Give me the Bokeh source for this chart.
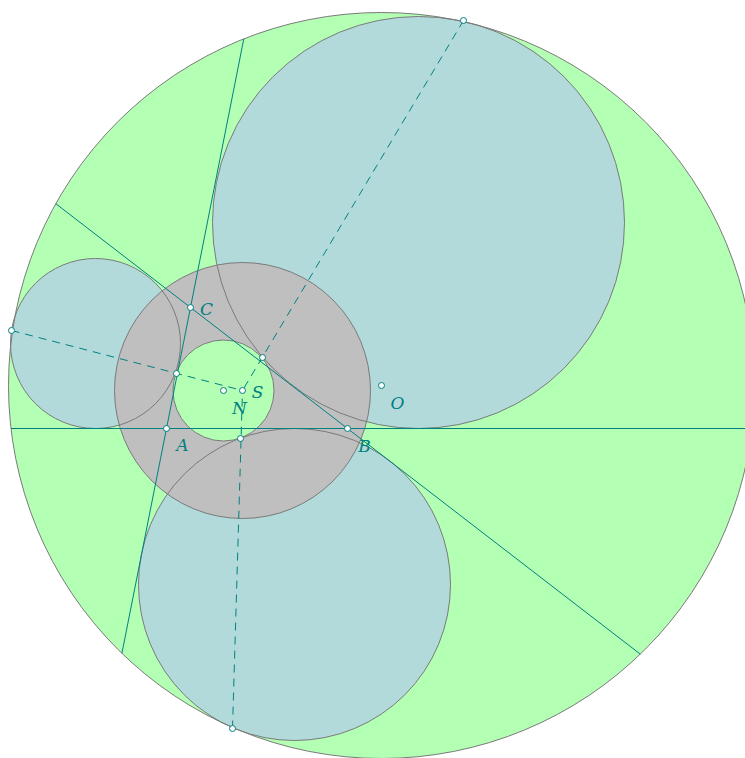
import numpy as np
from bokeh.plotting import figure
from bokeh.models import Range1d
from bokeh.core.properties import value
from bokeh.embed import file_html
from bokeh.resources import INLINE

# ---- data (screen-like coordinates, y downward) ----
circum_center = [381, 385]
circum_radius = 373

blue_cx = [418, 294, 95]
blue_cy = [222, 584, 343]
blue_r = [206, 156, 85]

gray_center = [242, 390]
gray_radius = 128

small_center = [223, 390]
small_radius = 50.5

# triangle vertices
A = [166, 428]
B = [347, 428]
C = [190, 307]
S = [242, 390]

# tangency points
tangent_x = [11, 463, 232]
tangent_y = [330, 20, 728]
inner_x = [176, 262, 240]
inner_y = [373, 357, 438]

label_text = ["C", "S", "N", "O", "A", "B"]
label_x = [206, 257, 239, 397, 182, 364]
label_y = [308, 391, 407, 402, 444, 445]

GREEN = "#b3ffb3"
BLUE = "#b3dada"
GRAY = "#bfbfbf"
EDGE = "#7a7a7a"
TEAL = "#008080"

p = figure(width=745, height=758, output_backend="svg", toolbar_location=None,
           x_range=Range1d(0, 745), y_range=Range1d(758, 0),
           min_border=0, background_fill_color="white", border_fill_color="white")
p.axis.visible = False
p.grid.visible = False
p.outline_line_color = None


def chord(P, Q):
    """Intersect line PQ with circumcircle."""
    P = np.array(P, float); Q = np.array(Q, float)
    O = np.array(circum_center, float)
    d = Q - P
    f = P - O
    a = d @ d; b = 2 * f @ d; c = f @ f - circum_radius ** 2
    disc = np.sqrt(b * b - 4 * a * c)
    t1 = (-b - disc) / (2 * a); t2 = (-b + disc) / (2 * a)
    p1 = P + t1 * d; p2 = P + t2 * d
    return [p1[0], p2[0]], [p1[1], p2[1]]


# fills
p.circle([circum_center[0]], [circum_center[1]], radius=circum_radius,
         fill_color=GREEN, line_color=None)
p.circle(blue_cx, blue_cy, radius=blue_r, fill_color=BLUE, line_color=None)
p.circle([gray_center[0]], [gray_center[1]], radius=gray_radius,
         fill_color=GRAY, line_color=None)
p.circle([small_center[0]], [small_center[1]], radius=small_radius,
         fill_color=GREEN, line_color=None)

# outlines
p.circle([circum_center[0]], [circum_center[1]], radius=circum_radius,
         fill_color=None, line_color=EDGE, line_width=1)
p.circle(blue_cx, blue_cy, radius=blue_r, fill_color=None, line_color=EDGE, line_width=1)
p.circle([gray_center[0]], [gray_center[1]], radius=gray_radius,
         fill_color=None, line_color=EDGE, line_width=1)
p.circle([small_center[0]], [small_center[1]], radius=small_radius,
         fill_color=None, line_color=EDGE, line_width=1)

# triangle side lines (chords)
for P, Q in [(A, C), (C, B), (A, B)]:
    xs, ys = chord(P, Q)
    p.line(xs, ys, line_color=TEAL, line_width=1)

# dashed lines from tangency points to S
for tx, ty in zip(tangent_x, tangent_y):
    p.line([tx, S[0]], [ty, S[1]], line_color=TEAL, line_width=1, line_dash="8 6")

# points
pts_x = [A[0], B[0], C[0], S[0], small_center[0], circum_center[0]] + tangent_x + inner_x
pts_y = [A[1], B[1], C[1], S[1], small_center[1], circum_center[1]] + tangent_y + inner_y
p.scatter(pts_x, pts_y, marker="circle", size=6, fill_color="white",
          line_color=TEAL, line_width=1)

p.text(label_x, label_y, text=label_text, text_color=TEAL,
       text_font=value("DejaVu Serif"), text_font_style="italic",
       text_font_size="17px", text_align="center", text_baseline="middle")

open("out.html", "w").write(file_html(p, INLINE))
